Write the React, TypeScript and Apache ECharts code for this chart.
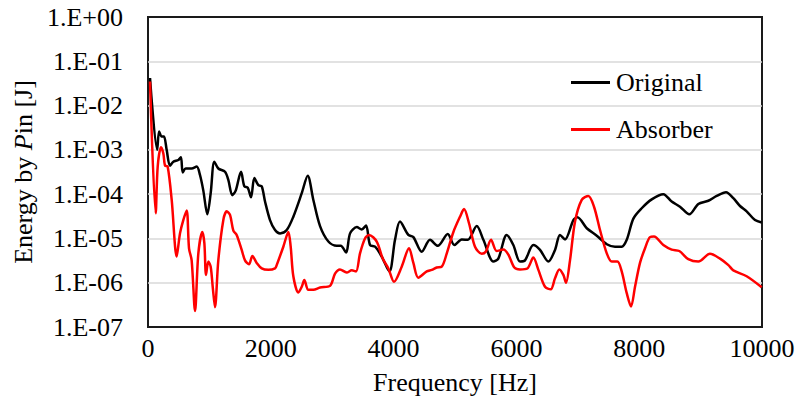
import React, { useEffect, useRef } from "react";
import * as echarts from "echarts";

const xTicks = [0, 2000, 4000, 6000, 8000, 10000];

const originalFreq = [33, 150, 180, 222, 260, 304, 358, 412, 494, 537, 565, 614, 711, 793, 847, 901, 966, 1021, 1080, 1145, 1254, 1308, 1373, 1428, 1515, 1569, 1624, 1678, 1732, 1797, 1852, 1906, 1987, 2069, 2150, 2259, 2367, 2504, 2601, 2693, 2802, 2938, 3074, 3139, 3226, 3291, 3400, 3481, 3551, 3616, 3698, 3806, 3931, 4023, 4104, 4240, 4322, 4458, 4593, 4719, 4882, 4990, 5110, 5207, 5354, 5462, 5625, 5706, 5842, 5950, 6059, 6140, 6276, 6385, 6520, 6629, 6710, 6792, 6928, 6993, 7146, 7309, 7472, 7606, 7715, 7797, 7905, 8041, 8204, 8393, 8529, 8664, 8816, 8963, 9126, 9262, 9414, 9533, 9642, 9750, 9886, 9995];
const originalEnergy = [4.2e-2, 1.0e-3, 2.6e-3, 2.0e-3, 2.0e-3, 1.0e-3, 4.4e-4, 5.4e-4, 5.9e-4, 6.8e-4, 3.1e-4, 3.8e-4, 3.8e-4, 4.2e-4, 2.7e-4, 1.2e-4, 3.5e-5, 1.05e-4, 5.4e-4, 3.8e-4, 3.2e-4, 2.1e-4, 9.5e-5, 1.2e-4, 3.2e-4, 1.5e-4, 1.4e-4, 8.5e-5, 2.3e-4, 1.6e-4, 1.5e-4, 6.8e-5, 2.6e-5, 1.55e-5, 1.3e-5, 1.55e-5, 3.1e-5, 1.05e-4, 2.6e-4, 7.4e-5, 1.9e-5, 8.5e-6, 6.8e-6, 6.8e-6, 4.8e-6, 1.3e-5, 1.8e-5, 1.6e-5, 1.95e-5, 7.1e-6, 6.5e-6, 3.9e-6, 1.8e-6, 9.3e-6, 2.4e-5, 1.2e-5, 1.07e-5, 5.0e-6, 9.3e-6, 6.8e-6, 1.26e-5, 7.1e-6, 9.5e-6, 9.3e-6, 1.9e-5, 9.3e-6, 3.0e-6, 3.5e-6, 1.2e-5, 7.1e-6, 3.0e-6, 3.2e-6, 7.1e-6, 5.5e-6, 3.0e-6, 5.5e-6, 1.2e-5, 9.5e-6, 2.6e-5, 3.0e-5, 1.7e-5, 1.15e-5, 7.4e-6, 6.5e-6, 6.5e-6, 9.3e-6, 2.8e-5, 4.8e-5, 7.6e-5, 1.0e-4, 6.8e-5, 5.2e-5, 3.5e-5, 6.0e-5, 7.1e-5, 9.1e-5, 1.1e-4, 8.1e-5, 5.4e-5, 4.1e-5, 2.6e-5, 2.3e-5];

const absorberFreq = [33, 125, 158, 212, 250, 277, 320, 386, 467, 521, 575, 630, 668, 711, 766, 820, 885, 918, 945, 983, 1021, 1054, 1091, 1145, 1227, 1282, 1336, 1390, 1444, 1526, 1580, 1645, 1700, 1770, 1852, 1960, 2069, 2096, 2204, 2286, 2324, 2367, 2449, 2504, 2546, 2611, 2693, 2802, 2965, 3046, 3127, 3236, 3318, 3388, 3453, 3534, 3600, 3725, 3823, 3915, 4007, 4132, 4251, 4322, 4403, 4540, 4621, 4702, 4784, 4866, 4974, 5082, 5147, 5228, 5326, 5435, 5500, 5587, 5679, 5787, 5869, 5967, 6059, 6178, 6276, 6358, 6466, 6559, 6629, 6699, 6765, 6808, 6873, 6955, 7064, 7172, 7264, 7362, 7472, 7553, 7645, 7715, 7797, 7867, 7932, 8013, 8095, 8176, 8241, 8393, 8529, 8653, 8800, 8963, 9153, 9316, 9453, 9533, 9750, 9995];
const absorberEnergy = [3.5e-2, 3.7e-5, 4.2e-4, 1.15e-3, 8.3e-4, 4.4e-4, 4.2e-4, 7.4e-5, 3.9e-6, 1.3e-5, 2.6e-5, 4.3e-5, 6.0e-6, 3.2e-6, 2.3e-7, 4.6e-6, 1.4e-5, 7.8e-6, 1.5e-6, 3.0e-6, 2.3e-6, 8.1e-7, 2.8e-7, 3.2e-6, 2.6e-5, 4.1e-5, 3.4e-5, 1.5e-5, 1.2e-5, 5.5e-6, 3.2e-6, 2.6e-6, 4.0e-6, 2.8e-6, 2.1e-6, 1.95e-6, 2.1e-6, 2.5e-6, 6.5e-6, 1.4e-5, 6.5e-6, 1.4e-6, 6.0e-7, 8.1e-7, 1.15e-6, 6.9e-7, 6.9e-7, 7.8e-7, 8.5e-7, 1.6e-6, 2.0e-6, 1.7e-6, 1.9e-6, 1.8e-6, 4.6e-6, 1.0e-5, 1.2e-5, 8.5e-6, 3.5e-6, 2.1e-6, 1.05e-6, 2.3e-6, 6.0e-6, 2.8e-6, 1.3e-6, 1.8e-6, 1.95e-6, 2.2e-6, 2.3e-6, 4.6e-6, 1.4e-5, 3.1e-5, 4.6e-5, 2.2e-5, 6.5e-6, 4.5e-6, 5.0e-6, 9.3e-6, 5.2e-6, 5.6e-6, 4.3e-6, 2.2e-6, 2.0e-6, 2.1e-6, 3.7e-6, 1.95e-6, 8.1e-7, 7.1e-7, 1.26e-6, 2.0e-6, 1.5e-6, 1.0e-6, 3.2e-6, 2.4e-5, 7.4e-5, 9.1e-5, 5.2e-5, 1.55e-5, 4.6e-6, 3.0e-6, 3.0e-6, 1.8e-6, 5.8e-7, 2.9e-7, 8.1e-7, 2.8e-6, 6.0e-6, 1.07e-5, 1.1e-5, 7.1e-6, 5.6e-6, 5.2e-6, 3.4e-6, 3.0e-6, 4.5e-6, 3.5e-6, 2.5e-6, 1.9e-6, 1.4e-6, 7.9e-7];

const seriesNames = ["Original", "Absorber"];
const seriesColors = ["#000000", "#ff0000"];

const FONT = "Liberation Serif";

function fmtExp(v: number): string {
  const e = Math.round(Math.log10(v));
  const a = Math.abs(e);
  return "1.E" + (e >= 0 ? "+" : "-") + (a < 10 ? "0" : "") + a;
}

export default function App() {
  const ref = useRef<HTMLDivElement>(null);
  useEffect(() => {
    if (!ref.current) return;
    const chart = echarts.init(ref.current, null, { renderer: "svg" });
    const toPairs = (fs: number[], vs: number[]) => fs.map((f, i) => [f, vs[i]]);
    chart.setOption({
      animation: false,
      backgroundColor: "#ffffff",
      textStyle: { fontFamily: FONT, color: "#000" },
      grid: {
        left: 148,
        top: 17,
        width: 614,
        height: 310,
        outerBoundsMode: "none",
        containLabel: false,
        show: true,
        borderColor: "#1a1a1a",
        borderWidth: 2,
        backgroundColor: "transparent",
      },
      legend: {
        orient: "vertical",
        left: 571,
        top: 68,
        padding: 0,
        itemWidth: 39,
        itemHeight: 3,
        itemGap: 18,
        icon: "rect",
        textStyle: { fontFamily: FONT, fontSize: 26, color: "#000", lineHeight: 29, padding: [0, 0, 0, 1] },
        data: seriesNames,
      },
      xAxis: {
        type: "value",
        min: xTicks[0],
        max: xTicks[xTicks.length - 1],
        interval: xTicks[1] - xTicks[0],
        name: "Frequency [Hz]",
        nameLocation: "middle",
        nameGap: 42,
        nameTextStyle: { fontFamily: FONT, fontSize: 26, color: "#000" },
        axisLine: { show: false },
        axisTick: { show: false },
        splitLine: { show: false },
        axisLabel: {
          fontFamily: FONT,
          fontSize: 26,
          color: "#000",
          margin: 8,
          formatter: (v: number) => String(v),
        },
      },
      yAxis: {
        type: "log",
        logBase: 10,
        min: 1e-7,
        max: 1,
        name: "{n|Energy by }{i|P}{n|in [J]}",
        nameLocation: "middle",
        nameRotate: 90,
        nameGap: 105,
        nameTextStyle: {
          fontFamily: FONT,
          fontSize: 26,
          color: "#000",
          rich: {
            n: { fontFamily: FONT, fontSize: 26, color: "#000" },
            i: { fontFamily: FONT, fontSize: 26, color: "#000", fontStyle: "italic" },
          },
        },
        axisLine: { show: false },
        axisTick: { show: false },
        splitLine: {
          show: true,
          showMinLine: false,
          showMaxLine: false,
          lineStyle: { color: "#d9d9d9", width: 1.5 },
        },
        axisLabel: {
          fontFamily: FONT,
          fontSize: 26,
          color: "#000",
          margin: 25,
          formatter: (v: number) => fmtExp(v),
        },
      },
      series: [
        {
          name: seriesNames[0],
          type: "line",
          data: toPairs(originalFreq, originalEnergy),
          showSymbol: false,
          smooth: 0.3,
          lineStyle: { color: seriesColors[0], width: 2.5 },
          itemStyle: { color: seriesColors[0] },
        },
        {
          name: seriesNames[1],
          type: "line",
          data: toPairs(absorberFreq, absorberEnergy),
          showSymbol: false,
          smooth: 0.3,
          lineStyle: { color: seriesColors[1], width: 2.5 },
          itemStyle: { color: seriesColors[1] },
        },
      ],
    });
    return () => chart.dispose();
  }, []);
  return (
    <div
      ref={ref}
      style={{ position: "fixed", left: 0, top: 0, width: 800, height: 414, background: "#fff" }}
    />
  );
}
